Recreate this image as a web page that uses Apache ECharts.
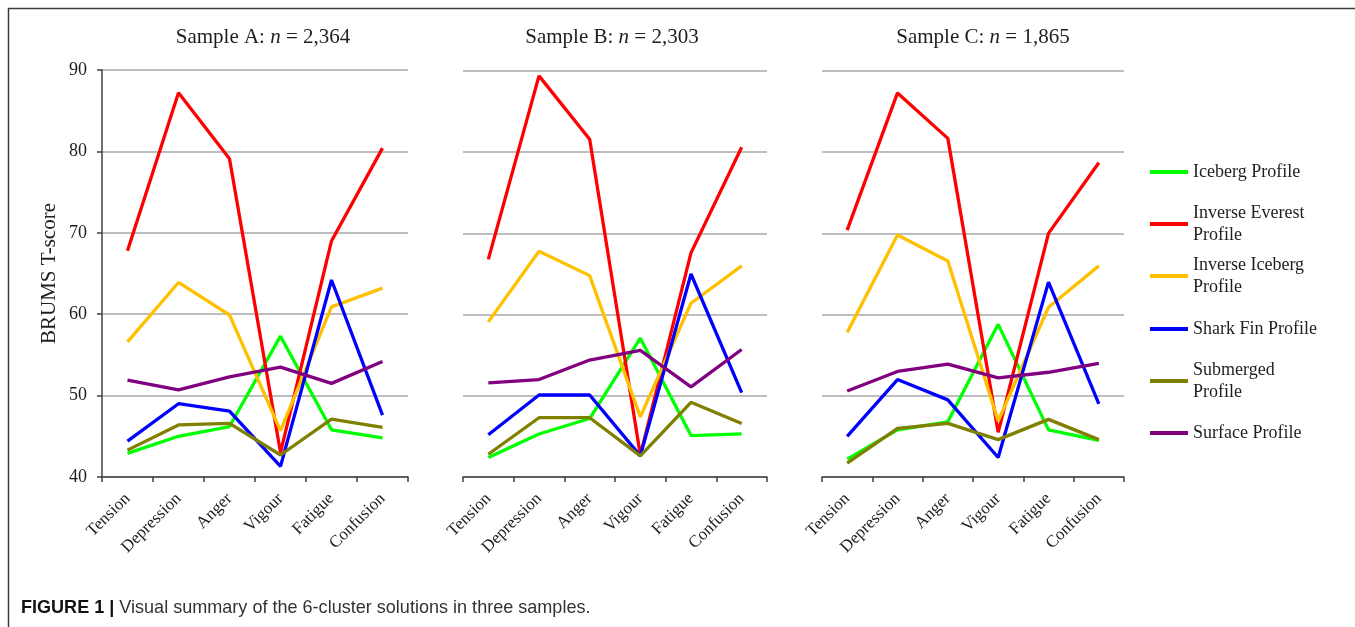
<!DOCTYPE html>
<html><head><meta charset="utf-8">
<script src="https://cdn.jsdelivr.net/npm/echarts@6/dist/echarts.min.js"></script>
<style>html,body{margin:0;padding:0;background:#fff}#c{width:1355px;height:627px}</style>
</head><body><div id="c"></div>
<script>
// ---- Data ----
const categories = ['Tension', 'Depression', 'Anger', 'Vigour', 'Fatigue', 'Confusion'];
const profiles = ['Iceberg Profile', 'Inverse Everest Profile', 'Inverse Iceberg Profile', 'Shark Fin Profile', 'Submerged Profile', 'Surface Profile'];
const legendLabels = ['Iceberg Profile', 'Inverse Everest\nProfile', 'Inverse Iceberg\nProfile', 'Shark Fin Profile', 'Submerged\nProfile', 'Surface Profile'];
const profileColors = ['#00ff00', '#ff0000', '#ffc000', '#0000ff', '#808000', '#800080'];
const sampleLetters = ['A', 'B', 'C'];
const sampleSizes = ['2,364', '2,303', '1,865'];
const yMin = 40, yMax = 90, yStep = 10;

// Sample A
const A_iceberg   = [42.9, 45.0, 46.2, 57.3, 45.8, 44.8];
const A_invEverest= [67.8, 87.2, 79.1, 43.0, 69.0, 80.4];
const A_invIceberg= [56.6, 63.9, 59.9, 45.7, 60.9, 63.2];
const A_sharkFin  = [44.4, 49.0, 48.1, 41.3, 64.2, 47.6];
const A_submerged = [43.3, 46.4, 46.6, 42.7, 47.1, 46.1];
const A_surface   = [51.9, 50.7, 52.3, 53.5, 51.5, 54.2];
// Sample B
const B_iceberg   = [42.4, 45.3, 47.2, 57.1, 45.1, 45.3];
const B_invEverest= [66.8, 89.4, 81.6, 42.7, 67.6, 80.6];
const B_invIceberg= [59.1, 67.8, 64.8, 47.4, 61.4, 66.0];
const B_sharkFin  = [45.2, 50.1, 50.1, 42.6, 65.0, 50.4];
const B_submerged = [42.8, 47.3, 47.3, 42.6, 49.2, 46.6];
const B_surface   = [51.6, 52.0, 54.4, 55.6, 51.1, 55.7];
// Sample C
const C_iceberg   = [42.2, 45.8, 46.8, 58.8, 45.8, 44.5];
const C_invEverest= [70.4, 87.3, 81.7, 45.5, 70.0, 78.7];
const C_invIceberg= [57.8, 69.8, 66.6, 46.9, 60.9, 66.0];
const C_sharkFin  = [45.0, 52.0, 49.5, 42.4, 64.0, 49.0];
const C_submerged = [41.7, 46.0, 46.6, 44.6, 47.1, 44.6];
const C_surface   = [50.6, 53.0, 53.9, 52.2, 52.9, 54.0];

const sampleData = [
  [A_iceberg, A_invEverest, A_invIceberg, A_sharkFin, A_submerged, A_surface],
  [B_iceberg, B_invEverest, B_invIceberg, B_sharkFin, B_submerged, B_surface],
  [C_iceberg, C_invEverest, C_invIceberg, C_sharkFin, C_submerged, C_surface]
];

// ---- Layout / style ----
const serif = '"Liberation Serif", "Times New Roman", serif';
const sans = '"Liberation Sans", Arial, sans-serif';
const textColor = '#1e1e1e';
const axisColor = '#404040';
const gridColor = '#a8a8a8';
const grids = [
  {left: 102, top: 70, width: 306, height: 407},
  {left: 463, top: 71, width: 304, height: 406},
  {left: 822, top: 71, width: 302, height: 406}
];
const titleX = [258, 607, 978];
const legendLineY = [172, 224, 276, 329, 381, 433];

const chart = echarts.init(document.getElementById('c'), null, {renderer: 'canvas'});

const titles = sampleLetters.map((L, i) => ({
  text: '{r|Sample ' + L + ': }{i|n}{r| = ' + sampleSizes[i] + '}',
  left: titleX[i], top: 22, textAlign: 'center',
  textStyle: {
    fontWeight: 'normal',
    rich: {
      r: {fontFamily: serif, fontSize: 21, fontWeight: 'normal', color: textColor},
      i: {fontFamily: serif, fontSize: 21, fontWeight: 'normal', fontStyle: 'italic', color: textColor}
    }
  }
}));

const xAxes = grids.map((g, i) => ({
  type: 'category', gridIndex: i, data: categories, boundaryGap: true,
  axisLine: {show: true, lineStyle: {color: axisColor, width: 1.5}},
  axisTick: {show: true, length: 5, lineStyle: {color: axisColor, width: 1.5}},
  axisLabel: {rotate: 45, margin: 19, fontFamily: serif, fontSize: 17, color: textColor, interval: 0},
  splitLine: {show: false}
}));

const yAxes = grids.map((g, i) => ({
  type: 'value', gridIndex: i, min: yMin, max: yMax, interval: yStep,
  name: i === 0 ? 'BRUMS T-score' : '',
  nameLocation: 'middle', nameGap: 42, nameRotate: 90,
  nameTextStyle: {fontFamily: serif, fontSize: 21, color: textColor},
  axisLine: {show: i === 0, lineStyle: {color: axisColor, width: 1.5}},
  axisTick: {show: i === 0, length: 5, lineStyle: {color: axisColor, width: 1.5}},
  axisLabel: {show: i === 0, margin: 15, fontFamily: serif, fontSize: 18, color: textColor},
  splitLine: {show: true, lineStyle: {color: gridColor, width: 1.6}}
}));

const series = [];
sampleData.forEach((rows, s) => {
  rows.forEach((vals, p) => {
    series.push({
      type: 'line', name: profiles[p], xAxisIndex: s, yAxisIndex: s,
      data: vals, symbol: 'none', smooth: false,
      lineStyle: {width: 3.3, color: profileColors[p]},
      itemStyle: {color: profileColors[p]}
    });
  });
});

const legends = profiles.map((name, i) => {
  const twoLine = legendLabels[i].indexOf('\n') >= 0;
  return {
    data: [name], orient: 'vertical', left: 1150,
    top: legendLineY[i] - (twoLine ? 33 : 11),
    padding: 0, itemWidth: 38, itemHeight: 4, itemGap: 0,
    icon: 'rect',
    formatter: () => legendLabels[i],
    textStyle: {
      fontFamily: serif, fontSize: 18, lineHeight: 22, color: textColor,
      padding: twoLine ? [22, 0, 0, 0] : 0
    }
  };
});

const option = {
  animation: false,
  backgroundColor: '#ffffff',
  title: titles,
  grid: grids,
  xAxis: xAxes,
  yAxis: yAxes,
  legend: legends,
  series: series,
  graphic: [
    {type: 'line', shape: {x1: 8, y1: 8.5, x2: 1355, y2: 8.5}, style: {stroke: '#3c3c3c', lineWidth: 1.5}, silent: true},
    {type: 'line', shape: {x1: 8.5, y1: 8, x2: 8.5, y2: 627}, style: {stroke: '#3c3c3c', lineWidth: 1.5}, silent: true},
    {type: 'text', x: 21, y: 598, scaleX: 0.95, silent: true,
      style: {
        text: '{b|FIGURE 1 |}{n| Visual summary of the 6-cluster solutions in three samples.}',
        rich: {
          b: {fontFamily: sans, fontWeight: 'bold', fontSize: 19, fill: '#111'},
          n: {fontFamily: sans, fontSize: 19, fill: '#333'}
        }
      }
    }
  ]
};
chart.setOption(option);
</script>
</body></html>
